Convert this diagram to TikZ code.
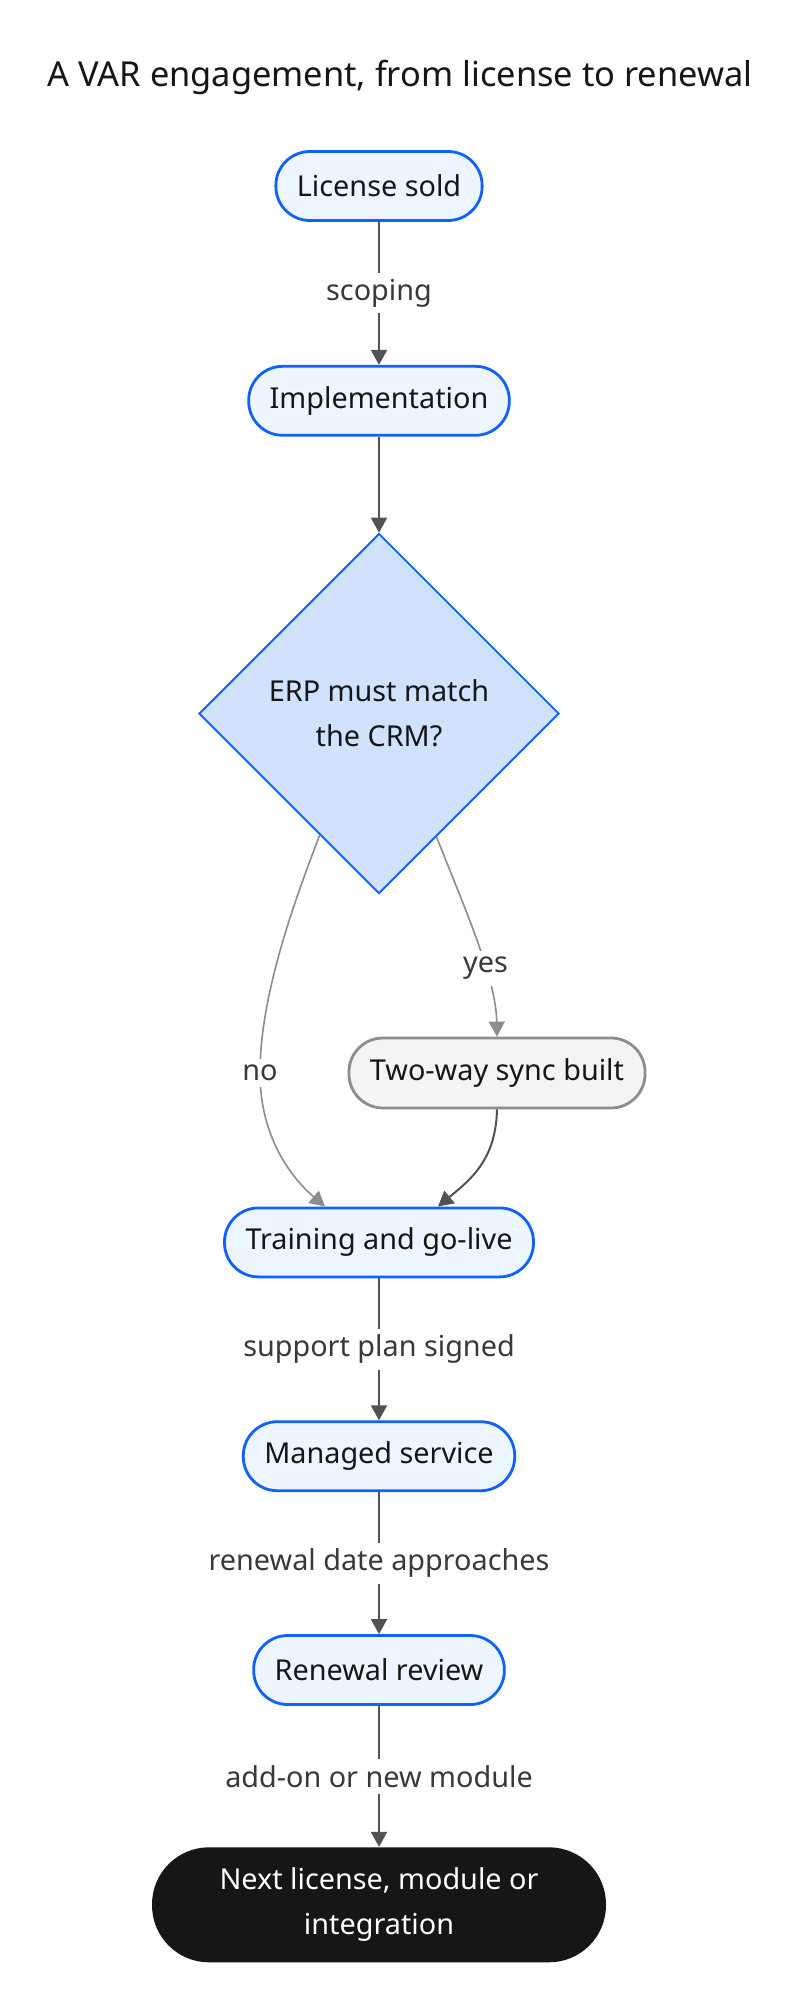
\documentclass[tikz,border=0pt]{standalone}
\usepackage{fontspec}
\setmainfont{Noto Sans}
\usepackage{tikz}
\usetikzlibrary{positioning,shapes.geometric,arrows.meta}

\definecolor{varblue}{HTML}{0F62FE}
\definecolor{paleblue}{HTML}{EDF5FF}
\definecolor{lightblue}{HTML}{D0E2FF}
\definecolor{ink}{HTML}{161616}
\definecolor{edgegray}{HTML}{525252}
\definecolor{softgray}{HTML}{8D8D8D}
\definecolor{labelgray}{HTML}{393939}
\definecolor{boxgray}{HTML}{F4F4F4}

\begin{document}
\begin{tikzpicture}[x=0.5pt,y=-0.5pt,
  font=\fontsize{14.4}{22.5}\selectfont,
  stage/.style={draw=varblue,line width=1.4pt,fill=paleblue,text=ink,rounded corners=17pt,minimum height=34.5pt,inner xsep=10.5pt},
  sidestage/.style={draw=softgray,line width=1.4pt,fill=boxgray,text=ink,rounded corners=17pt,minimum height=35pt,inner xsep=10.5pt},
  decision/.style={diamond,draw=varblue,line width=0.9pt,fill=lightblue,text=ink,minimum width=180pt,minimum height=180pt,align=center,inner sep=0pt},
  finish/.style={fill=ink,text=white,rounded corners=28.5pt,minimum width=227pt,minimum height=57.5pt,align=center},
  lbl/.style={fill=white,text=labelgray,inner sep=3pt},
  flow/.style={draw=edgegray,line width=1pt,-{Triangle[length=7.5pt,width=8pt]}},
  softflow/.style={draw=softgray,line width=0.8pt,-{Triangle[length=7.5pt,width=8pt]}}]
  \useasboundingbox[fill=white] (0,0) rectangle (800,2012);
  \node (title) at (400,77) [font=\fontsize{17.2}{20}\selectfont,text=ink] {A VAR engagement, from license to renewal};
  \node (sold) at (379,186) [stage] {License sold};
  \node (impl) [stage,below=71.5pt of sold] {Implementation};
  \node (erp) [decision,below=48pt of impl] {ERP must match\\the CRM?};
  \node (train) [stage,below=156pt of erp] {Training and go-live};
  \node (sync) at (497,1073) [sidestage] {Two-way sync built};
  \node (managed) [stage,below=71pt of train] {Managed service};
  \node (review) [stage,below=71pt of managed] {Renewal review};
  \node (next) [finish,below=70.5pt of review] {Next license, module or\\integration};
  \draw[flow] (sold) -- (impl) node[pos=0.5,lbl] {scoping};
  \draw[flow] (impl) -- (erp);
  \draw[softflow] (erp.244) .. controls (290,912) and (260,1000) .. (260,1073) node[lbl] {no}
    .. controls (260,1140) and (294,1180) .. ([xshift=-27pt]train.north);
  \draw[softflow] (erp.295) .. controls (468,916) and (496,980) .. (sync.north) node[pos=0.62,lbl] {yes};
  \draw[flow] (sync.south) .. controls (496,1160) and (470,1180) .. ([xshift=29.5pt]train.north);
  \draw[flow] (train) -- (managed) node[pos=0.5,lbl] {support plan signed};
  \draw[flow] (managed) -- (review) node[pos=0.5,lbl] {renewal date approaches};
  \draw[flow] (review) -- (next) node[pos=0.5,lbl] {add-on or new module};
\end{tikzpicture}
\end{document}
